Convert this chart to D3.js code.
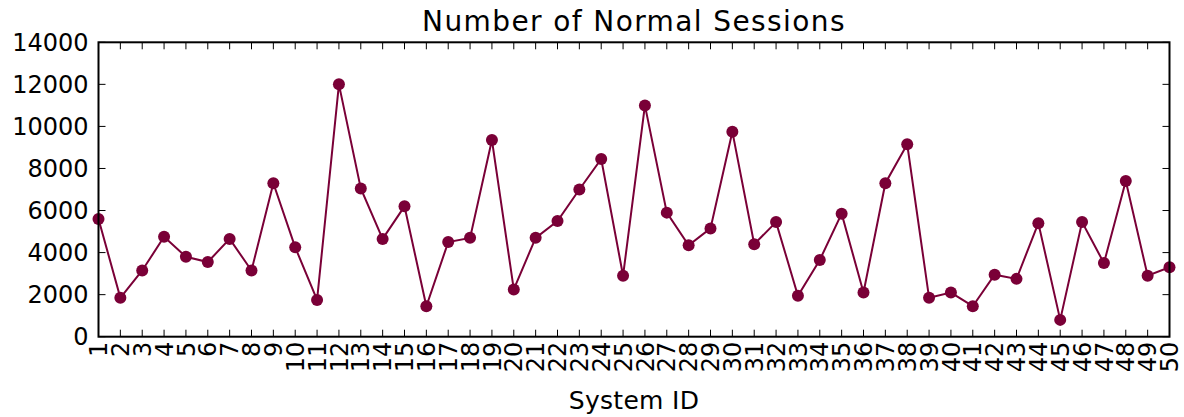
<!DOCTYPE html>
<html><head><meta charset="utf-8">
<script src="https://cdn.jsdelivr.net/npm/d3@7"></script>
<style>body{margin:0;background:#fff}svg{display:block}text{font-family:"DejaVu Sans",sans-serif;fill:#000}</style>
</head><body><svg id="c" width="1184" height="417"></svg>
<script>
const systemIds = d3.range(1, 51);
const sessions = [5600,1850,3150,4750,3800,3550,4650,3150,7300,4250,
  1750,12000,7050,4650,6200,1450,4500,4700,9350,2250,
  4700,5500,7000,8450,2900,11000,5900,4350,5150,9750,
  4400,5450,1950,3650,5850,2100,7300,9150,1850,2100,
  1450,2950,2750,5400,800,5450,3500,7400,2900,3300];
const yTicks = [0,2000,4000,6000,8000,10000,12000,14000];
const title = "Number of Normal Sessions";
const xLabel = "System ID";

const svg = d3.select("#c");
const L = 98.5, R = 1169.5, T = 42.3, B = 336.7;
const x = d3.scaleLinear().domain([1, 50]).range([L, R]);
const y = d3.scaleLinear().domain([0, 14000]).range([B, T]);
const color = "#7a0037";

svg.append("path").datum(sessions)
  .attr("fill","none").attr("stroke",color).attr("stroke-width",2)
  .attr("d", d3.line().x((d,i)=>x(systemIds[i])).y(d=>y(d)));
svg.append("g").selectAll("circle").data(sessions).join("circle")
  .attr("cx",(d,i)=>x(systemIds[i])).attr("cy",d=>y(d)).attr("r",6).attr("fill",color);

const tl = 7;
const g = svg.append("g").attr("stroke","#000").attr("stroke-width",1);
systemIds.forEach(v=>{
  g.append("line").attr("x1",x(v)).attr("x2",x(v)).attr("y1",B).attr("y2",B-tl);
  g.append("line").attr("x1",x(v)).attr("x2",x(v)).attr("y1",T).attr("y2",T+tl);
});
yTicks.forEach(v=>{
  g.append("line").attr("x1",L).attr("x2",L+tl).attr("y1",y(v)).attr("y2",y(v));
  g.append("line").attr("x1",R).attr("x2",R-tl).attr("y1",y(v)).attr("y2",y(v));
});
svg.append("rect").attr("x",L).attr("y",T).attr("width",R-L).attr("height",B-T)
  .attr("fill","none").attr("stroke","#000").attr("stroke-width",2);

svg.append("g").selectAll("text").data(yTicks).join("text")
  .attr("x", L-10).attr("y", d=>y(d)).attr("dy","0.36em")
  .attr("text-anchor","end").attr("font-size",24).text(d=>d);

svg.append("g").selectAll("text").data(systemIds).join("text")
  .attr("transform", d=>`translate(${x(d)},${B+5}) rotate(-90)`)
  .attr("text-anchor","end").attr("dy","0.36em").attr("font-size",24).text(d=>d);

svg.append("text").attr("x",(L+R)/2).attr("y",31).attr("text-anchor","middle")
  .attr("font-size",28).attr("letter-spacing","1.4px").text(title);
svg.append("text").attr("x",(L+R)/2).attr("y",409).attr("text-anchor","middle")
  .attr("font-size",25).attr("letter-spacing","0.3px").text(xLabel);
</script></body></html>
